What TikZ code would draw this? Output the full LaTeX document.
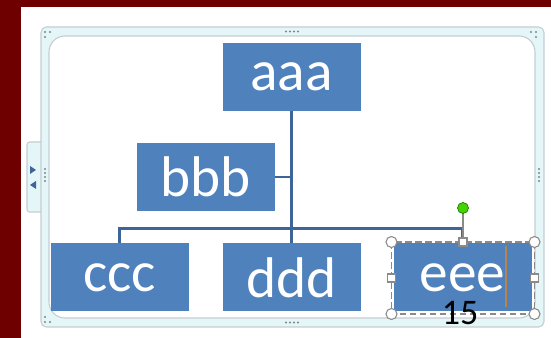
\documentclass[tikz,border=0pt]{standalone}
\usepackage{fontspec}
\setmainfont{Carlito}
\definecolor{maroon}{HTML}{6E0000}
\definecolor{boxblue}{HTML}{4F81BD}
\definecolor{linkblue}{HTML}{3E6599}
\definecolor{bandcyan}{HTML}{E4F6F8}
\definecolor{framegray}{HTML}{C4CDD1}
\definecolor{dotgray}{HTML}{7F878B}
\definecolor{handlegray}{HTML}{8A8A8A}
\definecolor{cursor}{HTML}{B8844C}
\begin{document}
\begin{tikzpicture}[x=0.75pt,y=-0.75pt,
  orgbox/.style={fill=boxblue,draw=none,minimum width=138*0.75pt,minimum height=68*0.75pt,
    inner sep=0pt,text=white,font=\fontsize{43}{43}\selectfont},
  link/.style={draw=linkblue,line width=2.2*0.75pt},
  fdot/.style={fill=dotgray,draw=none},
  chandle/.style={circle,draw=handlegray,fill=white,line width=0.8pt,minimum size=11*0.75pt,inner sep=0pt},
  shandle/.style={rectangle,draw=handlegray,fill=white,line width=0.8pt,minimum size=8*0.75pt,inner sep=0pt}]
\useasboundingbox (0,0) rectangle (551,338);
% background
\fill[white] (0,0) rectangle (551,338);
\fill[maroon] (0,0) rectangle (551,7);
\fill[maroon] (0,0) rectangle (21,338);
% left tab
\path[fill=bandcyan,draw=framegray,line width=0.8pt,rounded corners=2pt] (41,142) -- (27,142) -- (27,212) -- (41,212);
\fill[linkblue] (30,166) -- (36,170) -- (30,174) -- cycle;
\fill[linkblue] (36,181) -- (30,185) -- (36,189) -- cycle;
% frame
\path[fill=bandcyan,draw=framegray,line width=0.8pt,rounded corners=4pt] (41,27) rectangle (544,327);
\path[fill=white,draw=framegray,line width=0.8pt,rounded corners=12pt] (49,36) rectangle (535,318);
% frame dots
\foreach \xx in {286,290,294,298} {\fill[fdot] (\xx,31.5) circle (1.2); \fill[fdot] (\xx,322.5) circle (1.2);}
\foreach \yy in {169,173,177,181} {\fill[fdot] (45,\yy) circle (1.2); \fill[fdot] (539,\yy) circle (1.2);}
\fill[fdot] (45,32) circle (1.2); \fill[fdot] (50,32) circle (1.2); \fill[fdot] (45,37) circle (1.2);
\fill[fdot] (531,32) circle (1.2); \fill[fdot] (536,32) circle (1.2); \fill[fdot] (536,37) circle (1.2);
\fill[fdot] (45,317) circle (1.2); \fill[fdot] (45,322) circle (1.2); \fill[fdot] (50,322) circle (1.2);
% boxes
\node[orgbox] (a) at (291.5,77) {aaa};
\node[orgbox] (b) at (205.5,177) {bbb};
\node[orgbox] (c) at (119.5,277.5) {ccc};
\node[orgbox] (d) at (291.5,277.5) {ddd};
\node[orgbox] (e) at (462.5,277.5) {eee};
% connectors
\coordinate (bus) at (291.5,228.5);
\draw[link] (a.south) -- (a.south |- bus);
\draw[link] (b.east) -- (b.east -| a.south);
\draw[link] (c.north) -- (c.north |- bus) -- (e.north |- bus) -- (e.north);
\draw[link] (d.north) -- (d.north |- bus);
% cursor
\draw[cursor,line width=0.9pt] (506,246) -- (506,307);
% selection
\draw[handlegray,line width=0.8pt,dash pattern=on 5pt off 2.5pt] (391.5,242) rectangle (534.5,314);
\coordinate (rot) at (463,208);
\node[shandle] (ht) at (463,242) {};
\draw[handlegray,line width=0.8pt] (rot) -- (ht.north);
\node[circle,fill=green!70!black!60!lime,draw=green!50!black,line width=0.5pt,minimum size=11*0.75pt,inner sep=0pt] at (rot) {};
\node[shandle] at (391.5,278) {};
\node[shandle] at (534.5,278) {};
\node[chandle] at (391.5,242) {};
\node[chandle] at (534.5,242) {};
\node[chandle] at (391.5,314) {};
\node[chandle] at (534.5,314) {};
% page number
\node[text=black,font=\fontsize{27}{27}\selectfont,inner sep=0pt] (num) at (460,313) {15};
\end{tikzpicture}
\end{document}
